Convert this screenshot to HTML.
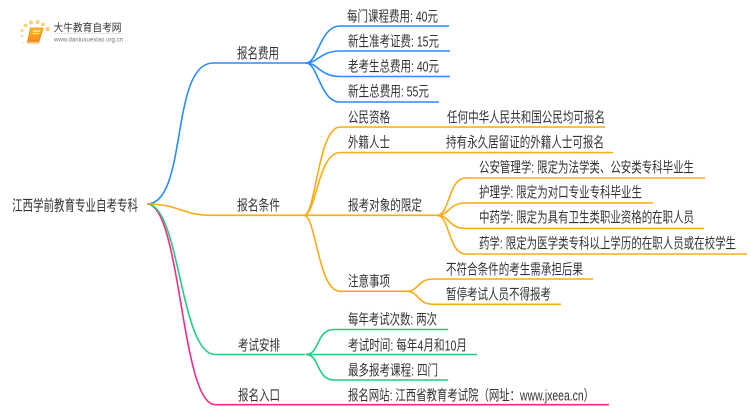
<!DOCTYPE html>
<html><head><meta charset="utf-8"><style>
html,body{margin:0;padding:0;background:#fff;width:750px;height:410px;overflow:hidden}
svg{display:block}
text{font-family:"Liberation Sans","Noto Sans CJK SC",sans-serif;font-size:14.5px;fill:#333;filter:blur(.25px)}
.b{fill:none;stroke:#2a8cff;stroke-width:1.6}
.o{fill:none;stroke:#fbab16;stroke-width:1.6}
.g{fill:none;stroke:#1fcb84;stroke-width:1.6}
.p{fill:none;stroke:#fb2a84;stroke-width:1.6}
</style></head><body>
<svg width="750" height="410" viewBox="0 0 750 410" xmlns="http://www.w3.org/2000/svg">
<defs><linearGradient id="bk" x1="0" y1="0" x2="0" y2="1"><stop offset="0" stop-color="#fbbc2e"/><stop offset="1" stop-color="#f58a12"/></linearGradient></defs>
<!-- logo -->
<g fill="#fbd27a">
<circle cx="23.500" cy="43" r="1" opacity=".5"/><circle cx="22" cy="36" r="1.200" opacity=".7"/><circle cx="22" cy="30.500" r="1.500"/><circle cx="25.500" cy="25.500" r="1.900"/><circle cx="31" cy="22.500" r="2"/><circle cx="37.500" cy="22" r="2.100"/><circle cx="43" cy="24.500" r="1.900"/><circle cx="47.500" cy="29" r="2.300"/>
</g>
<path d="M30.500 28H42.500Q43 28 42.800 29L39 41.500H27.500Z" fill="url(#bk)" stroke="#ee8a10" stroke-width=".8"/>
<path d="M27.500 41.500H39L38.500 43H28.500Q26.500 43 27.500 41.500Z" fill="#fdeccb" stroke="#ee8a10" stroke-width=".7"/>
<rect x="33" y="30.500" width="7" height="1.400" fill="#fde3b5"/><rect x="32.500" y="33" width="6.500" height="1.100" fill="#fde3b5"/>
<text x="53.500" y="31" textLength="68" lengthAdjust="spacingAndGlyphs" style="font-size:10.500px">大牛教育自考网</text>
<rect x="54" y="33" width="67" height=".7" fill="#ddd"/>
<text x="54" y="41.500" textLength="69" lengthAdjust="spacingAndGlyphs" style="font-size:6.500px;fill:#777">www.daniuxuexiao.org.cn</text>

<!-- connectors -->
<path class="p" d="M147 204C181 204 181 404.700 215 404.700H609"/>
<path class="g" d="M147 204C180 204 180 354.500 215 354.500H305"/>
<path class="b" d="M147 204C188 204 170 63 213 63H307"/>
<path class="o" d="M147 204C180 204 180 215.300 213 215.300H304"/>
<path class="b" d="M306 63C318 63 320 26 340 26H449"/>
<path class="b" d="M306 63C318 63 320 51 340 51H450"/>
<path class="b" d="M306 63C318 63 320 76.500 340 76.500H450"/>
<path class="b" d="M306 63C318 63 320 102 340 102H439"/>
<path class="o" d="M304 215.300C316 215.300 318 127 340 127H605"/>
<path class="o" d="M304 215.300C316 215.300 318 152.500 340 152.500H613"/>
<path class="o" d="M304 215.300H437"/>
<path class="o" d="M304 215.300C316 215.300 318 291.300 340 291.300H407"/>
<path class="o" d="M437 215.300C450 215.300 448 178 466 178H705"/>
<path class="o" d="M437 215.300C450 215.300 448 203 466 203H653"/>
<path class="o" d="M437 215.300C450 215.300 448 228.500 466 228.500H704"/>
<path class="o" d="M437 215.300C450 215.300 448 254 466 254H747"/>
<path class="o" d="M406 291.300C420 291.300 416 279 434 279H593"/>
<path class="o" d="M406 291.300C420 291.300 416 304.300 434 304.300H561"/>
<path class="g" d="M306 354.500C320 354.500 316 329.500 334 329.500H448"/>
<path class="g" d="M306 354.500H477"/>
<path class="g" d="M306 354.500C320 354.500 316 380 334 380H448"/>

<!-- labels -->
<text x="12" y="210.500" textLength="126" lengthAdjust="spacingAndGlyphs" style="font-size:15px">江西学前教育专业自考专科</text>
<text x="237" y="58.500" textLength="42" lengthAdjust="spacingAndGlyphs">报名费用</text>
<text x="237" y="210.500" textLength="43" lengthAdjust="spacingAndGlyphs">报名条件</text>
<text x="238" y="350.500" textLength="42" lengthAdjust="spacingAndGlyphs">考试安排</text>
<text x="238" y="400.500" textLength="42" lengthAdjust="spacingAndGlyphs">报名入口</text>

<text x="347" y="21.500" textLength="91" lengthAdjust="spacingAndGlyphs">每门课程费用: 40元</text>
<text x="348" y="46.500" textLength="91" lengthAdjust="spacingAndGlyphs">新生准考证费: 15元</text>
<text x="348" y="71.500" textLength="91" lengthAdjust="spacingAndGlyphs">老考生总费用: 40元</text>
<text x="348" y="96.500" textLength="81" lengthAdjust="spacingAndGlyphs">新生总费用: 55元</text>

<text x="348" y="122.500" textLength="42" lengthAdjust="spacingAndGlyphs">公民资格</text>
<text x="447" y="122.500" textLength="158" lengthAdjust="spacingAndGlyphs">任何中华人民共和国公民均可报名</text>
<text x="348" y="147.500" textLength="42" lengthAdjust="spacingAndGlyphs">外籍人士</text>
<text x="446" y="147.500" textLength="158" lengthAdjust="spacingAndGlyphs">持有永久居留证的外籍人士可报名</text>
<text x="348" y="210.500" textLength="74" lengthAdjust="spacingAndGlyphs">报考对象的限定</text>
<text x="479" y="172.500" textLength="215" lengthAdjust="spacingAndGlyphs">公安管理学: 限定为法学类、公安类专科毕业生</text>
<text x="479" y="197.500" textLength="163" lengthAdjust="spacingAndGlyphs">护理学: 限定为对口专业专科毕业生</text>
<text x="479" y="222.500" textLength="215" lengthAdjust="spacingAndGlyphs">中药学: 限定为具有卫生类职业资格的在职人员</text>
<text x="479" y="248.500" textLength="257" lengthAdjust="spacingAndGlyphs">药学: 限定为医学类专科以上学历的在职人员或在校学生</text>
<text x="348" y="286.500" textLength="42" lengthAdjust="spacingAndGlyphs">注意事项</text>
<text x="446" y="274.500" textLength="137" lengthAdjust="spacingAndGlyphs">不符合条件的考生需承担后果</text>
<text x="446" y="299.500" textLength="105" lengthAdjust="spacingAndGlyphs">暂停考试人员不得报考</text>

<text x="348" y="324.500" textLength="89" lengthAdjust="spacingAndGlyphs">每年考试次数: 两次</text>
<text x="348" y="350.500" textLength="119" lengthAdjust="spacingAndGlyphs">考试时间: 每年4月和10月</text>
<text x="348" y="375.500" textLength="90" lengthAdjust="spacingAndGlyphs">最多报考课程: 四门</text>
<text x="348" y="400.500" textLength="246" lengthAdjust="spacingAndGlyphs">报名网站: 江西省教育考试院（网址：www.jxeea.cn）</text>
</svg>
</body></html>
